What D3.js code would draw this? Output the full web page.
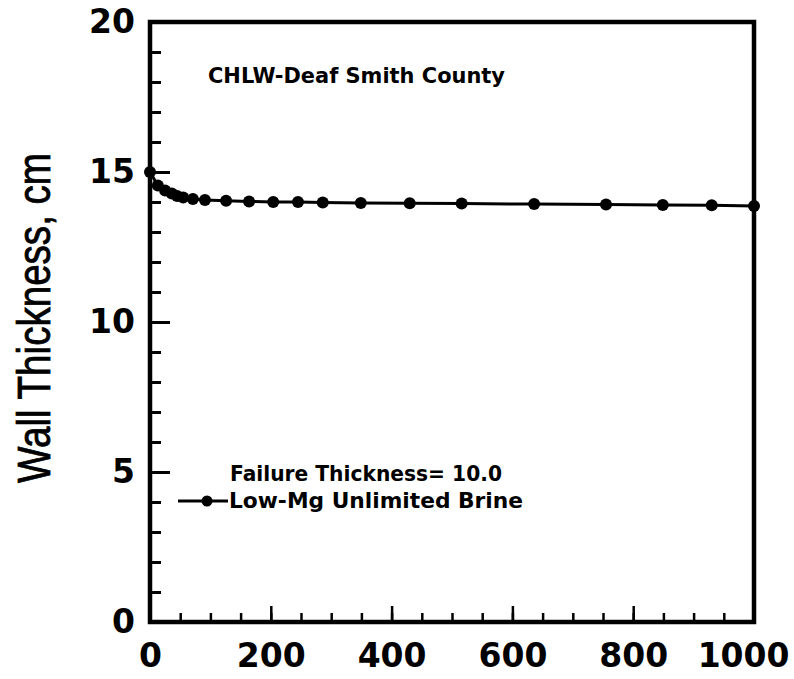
<!DOCTYPE html>
<html>
<head>
  <script src="https://d3js.org/d3.v7.min.js"></script>
  <style>
    body { margin: 0; background: #fff; }
    text { font-family: "DejaVu Sans", sans-serif; font-weight: bold; fill: #000; }
  </style>
</head>
<body>
  <div id="chart"></div>
  <script>
    // Data
    const times = [0, 13, 25, 36, 45, 55, 71, 91, 126, 164, 204, 245, 286, 349, 430, 516, 636, 755, 849, 930, 1000];
    const thickness = [15.0, 14.55, 14.38, 14.28, 14.2, 14.15, 14.1, 14.07, 14.04, 14.02, 14.0, 14.0, 13.98, 13.97, 13.96, 13.95, 13.93, 13.92, 13.9, 13.89, 13.87];
    const xMajorTicks = [0, 200, 400, 600, 800, 1000];
    const yMajorTicks = [0, 5, 10, 15, 20];
    const titleText = "CHLW-Deaf Smith County";
    const legendLines = ["Failure Thickness= 10.0", "Low-Mg Unlimited Brine"];
    const yLabel = "Wall Thickness, cm";

    const W = 794, H = 679;
    const margin = { top: 22, right: 40, bottom: 57, left: 150 };
    const width = W - margin.left - margin.right;
    const height = H - margin.top - margin.bottom;

    const data = times.map((t, i) => ({ t: t, v: thickness[i] }));

    const svg = d3.select("#chart")
      .append("svg")
      .attr("width", W)
      .attr("height", H);

    const g = svg.append("g")
      .attr("transform", `translate(${margin.left},${margin.top})`);

    const x = d3.scaleLinear().domain([0, 1000]).range([0, width]);
    const y = d3.scaleLinear().domain([0, 20]).range([height, 0]);

    // minor ticks (inward)
    g.append("g")
      .attr("transform", `translate(0,${height})`)
      .call(d3.axisBottom(x).tickValues(d3.range(50, 1000, 50)).tickSize(-9).tickFormat(""))
      .call(a => a.select(".domain").remove())
      .selectAll("line").attr("stroke-width", 2.5);
    g.append("g")
      .call(d3.axisLeft(y).tickValues(d3.range(1, 20, 1)).tickSize(-11).tickFormat(""))
      .call(a => a.select(".domain").remove())
      .selectAll("line").attr("stroke-width", 3);

    // major ticks + labels
    const xAx = g.append("g")
      .attr("transform", `translate(0,${height})`)
      .call(d3.axisBottom(x).tickValues(xMajorTicks).tickSize(-16).tickFormat(d3.format("d")))
      .call(a => a.select(".domain").remove());
    xAx.selectAll("line").attr("stroke-width", 2.5);
    xAx.selectAll("text")
      .attr("font-size", 33)
      .attr("font-family", "DejaVu Sans")
      .attr("font-weight", "bold")
      .attr("dy", "0.32em")
      .attr("y", 34)
      .attr("text-anchor", d => d === 1000 ? "end" : "middle")
      .attr("dx", d => d === 1000 ? 35 : 0);

    const yAx = g.append("g")
      .call(d3.axisLeft(y).tickValues(yMajorTicks).tickSize(-20))
      .call(a => a.select(".domain").remove());
    yAx.selectAll("line").attr("stroke-width", 3);
    yAx.selectAll("text")
      .attr("font-size", 33)
      .attr("font-family", "DejaVu Sans")
      .attr("font-weight", "bold")
      .attr("x", -15);

    // frame
    g.append("rect")
      .attr("x", 0).attr("y", 0)
      .attr("width", width).attr("height", height)
      .attr("fill", "none")
      .attr("stroke", "#000")
      .attr("stroke-width", 4.5);

    // series
    const line = d3.line().x(d => x(d.t)).y(d => y(d.v));
    g.append("path")
      .datum(data)
      .attr("fill", "none")
      .attr("stroke", "#000")
      .attr("stroke-width", 3)
      .attr("d", line);
    g.selectAll(".pt")
      .data(data)
      .enter()
      .append("circle")
      .attr("class", "pt")
      .attr("cx", d => x(d.t))
      .attr("cy", d => y(d.v))
      .attr("r", 6)
      .attr("fill", "#000");

    // title inside plot
    svg.append("text")
      .attr("x", 208).attr("y", 83)
      .attr("font-size", 22)
      .attr("textLength", 297)
      .attr("lengthAdjust", "spacingAndGlyphs")
      .text(titleText);

    // legend
    svg.append("text")
      .attr("x", 230).attr("y", 481)
      .attr("font-size", 21)
      .attr("textLength", 272)
      .attr("lengthAdjust", "spacingAndGlyphs")
      .text(legendLines[0]);
    svg.append("line")
      .attr("x1", 178).attr("x2", 228)
      .attr("y1", 501).attr("y2", 501)
      .attr("stroke", "#000").attr("stroke-width", 3);
    svg.append("circle")
      .attr("cx", 207).attr("cy", 501).attr("r", 5.5).attr("fill", "#000");
    svg.append("text")
      .attr("x", 229).attr("y", 508)
      .attr("font-size", 21)
      .attr("textLength", 294)
      .attr("lengthAdjust", "spacingAndGlyphs")
      .text(legendLines[1]);

    // y axis label
    svg.append("text")
      .attr("transform", "translate(50,318) rotate(-90)")
      .attr("text-anchor", "middle")
      .attr("font-size", 46)
      .attr("textLength", 330)
      .attr("lengthAdjust", "spacingAndGlyphs")
      .style("font-weight", "normal")
      .style("font-family", "Liberation Sans, Arial, sans-serif")
      .style("stroke", "#000")
      .style("stroke-width", 0.8)
      .text(yLabel);
  </script>
</body>
</html>
